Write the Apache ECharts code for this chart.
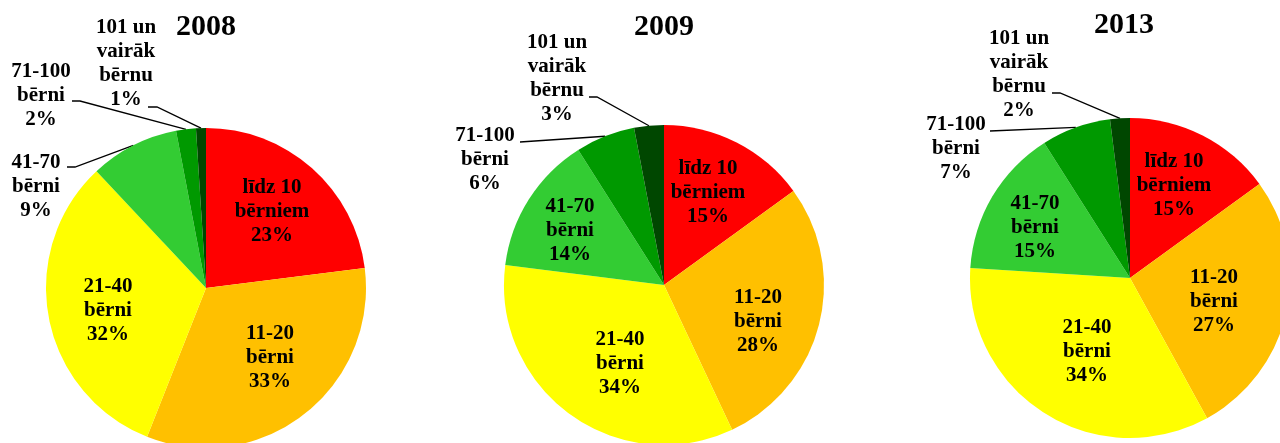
<!DOCTYPE html>
<html>
<head>
<meta charset="utf-8">
<script src="https://cdn.jsdelivr.net/npm/echarts@6/dist/echarts.min.js"></script>
<style>
  html, body { margin: 0; padding: 0; background: #fff; }
  #main { width: 1280px; height: 443px; }
</style>
</head>
<body>
<div id="main"></div>
<script>
var years = ['2008', '2009', '2013'];
var categories = ['līdz 10\nbērniem', '11-20\nbērni', '21-40\nbērni', '41-70\nbērni', '71-100\nbērni', '101 un\nvairāk\nbērnu'];
var share2008 = [23, 33, 32, 9, 2, 1];
var share2009 = [15, 28, 34, 14, 6, 3];
var share2013 = [15, 27, 34, 15, 7, 2];
var shares = [share2008, share2009, share2013];
var colors = ['#FF0000', '#FFC000', '#FFFF00', '#33CC33', '#009900', '#004700'];

// layout (pixels)
var pieCenters = [[206, 288], [664, 285], [1130, 278]];
var titleSpots = [[206, 27], [664, 27], [1124, 25]];
var labelSpots = [
  [[272, 212], [270, 358], [108, 311], [36, 187], [41, 96], [126, 64]],
  [[708, 193], [758, 322], [620, 364], [570, 231], [485, 160], [557, 79]],
  [[1174, 186], [1214, 302], [1087, 352], [1035, 228], [956, 149], [1019, 75]]
];
// where the leader line leaves the label: x, y, horizontal run
var leaderSpots = [
  [null, null, null, [67, 167, 8], [72, 101, 8], [148, 107, 9]],
  [null, null, null, null, [520, 142, 0], [589, 97, 8]],
  [null, null, null, null, [990, 131, 0], [1052, 93, 8]]
];

var font = 'Liberation Serif';
var chart = echarts.init(document.getElementById('main'));

var series = years.map(function (y, k) {
  return {
    name: y,
    type: 'pie',
    center: pieCenters[k],
    radius: 160,
    startAngle: 90,
    clockwise: true,
    avoidLabelOverlap: false,
    silent: true,
    label: {
      show: true,
      position: 'inside',
      formatter: '{b}\n{c}%',
      color: '#000',
      fontFamily: font,
      fontWeight: 'bold',
      fontSize: 21,
      lineHeight: 24
    },
    labelLine: { show: false },
    labelLayout: function (p) {
      var s = labelSpots[k][p.dataIndex];
      var out = { x: s[0], y: s[1], align: 'center', verticalAlign: 'middle' };
      var l = leaderSpots[k][p.dataIndex];
      if (l && p.labelLinePoints && p.labelLinePoints.length) {
        out.labelLinePoints = [p.labelLinePoints[0], [l[0] + l[2], l[1]], [l[0], l[1]]];
      }
      return out;
    },
    data: categories.map(function (c, i) {
      var item = { name: c, value: shares[k][i], itemStyle: { color: colors[i] } };
      if (leaderSpots[k][i]) {
        item.label = { position: 'outside' };
        item.labelLine = { show: true, length: 10, length2: 10, lineStyle: { color: '#000', width: 1.3 } };
      }
      return item;
    })
  };
});

chart.setOption({
  animation: false,
  title: years.map(function (y, k) {
    return {
      text: y,
      left: titleSpots[k][0],
      top: titleSpots[k][1],
      textAlign: 'center',
      textVerticalAlign: 'middle',
      padding: 0,
      textStyle: { fontFamily: font, fontWeight: 'bold', fontSize: 30, color: '#000' }
    };
  }),
  series: series
});
</script>
</body>
</html>
